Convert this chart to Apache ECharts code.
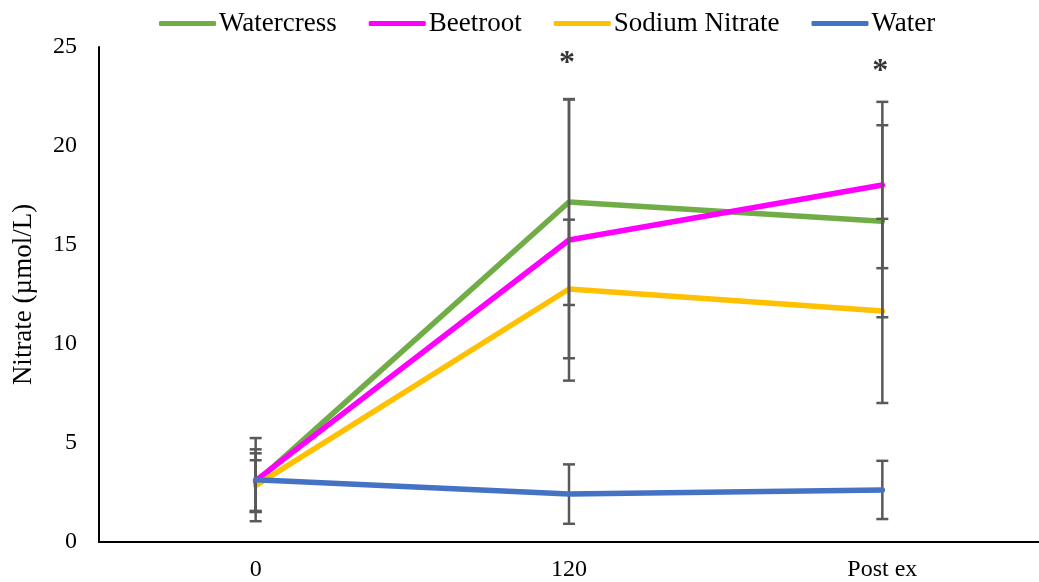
<!DOCTYPE html>
<html><head><meta charset="utf-8">
<script src="https://cdn.jsdelivr.net/npm/echarts@6/dist/echarts.min.js"></script>
<style>html,body{margin:0;padding:0;background:#fff}#c{width:1039px;height:582px}</style>
</head><body><div id="c"></div>
<script>
const categories = ['0', '120', 'Post ex'];
const seriesNames = ['Watercress', 'Beetroot', 'Sodium Nitrate', 'Water'];
const watercress = [3.0, 17.17, 16.2];
const beetroot = [3.1, 15.25, 18.03];
const sodiumNitrate = [2.85, 12.78, 11.67];
const water = [3.15, 2.42, 2.63];
const watercressErr = [1.48, 5.2, 4.85];
const beetrootErr = [1.58, 7.1, 4.2];
const sodiumNitrateErr = [1.28, 3.5, 4.65];
const waterErr = [2.1, 1.5, 1.47];
const sigCategories = ['120', 'Post ex'];
const sigLabelValues = [24.15, 23.75];
const yTicks = [0, 5, 10, 15, 20, 25];

const colors = ['#70AD47', '#FF00FF', '#FFC000', '#4472C4'];
const values = [watercress, beetroot, sodiumNitrate, water];
const errs = [watercressErr, beetrootErr, sodiumNitrateErr, waterErr];
const font = '"Liberation Serif", "Times New Roman", serif';

const errData = [];
values.forEach((arr, s) => arr.forEach((v, i) => errData.push([i, v - errs[s][i], v + errs[s][i]])));

const chart = echarts.init(document.getElementById('c'), null, {renderer: 'canvas'});
const series = seriesNames.map((n, s) => ({
  name: n, type: 'line', data: values[s], symbol: 'none',
  lineStyle: {width: 5.5, color: colors[s], cap: 'round'}, itemStyle: {color: colors[s]},
  z: s === 3 ? 5 : 2, animation: false
}));
series.push({
  type: 'custom', name: 'err', data: errData, z: 3, animation: false,
  renderItem: function (params, api) {
    const x = api.coord([api.value(0), api.value(1)])[0];
    const yl = api.coord([api.value(0), api.value(1)])[1];
    const yh = api.coord([api.value(0), api.value(2)])[1];
    const hw = 6;
    const st = {stroke: '#595959', lineWidth: 2.5};
    return {type: 'group', children: [
      {type: 'line', shape: {x1: x, y1: yl, x2: x, y2: yh}, style: st},
      {type: 'line', shape: {x1: x - hw, y1: yl, x2: x + hw, y2: yl}, style: st},
      {type: 'line', shape: {x1: x - hw, y1: yh, x2: x + hw, y2: yh}, style: st}
    ]};
  }
});
series.push({
  type: 'scatter', name: 'sig', symbolSize: 0, animation: false,
  data: sigCategories.map((c, i) => [c, sigLabelValues[i]]),
  label: {show: true, formatter: '*', position: 'inside', color: '#000', fontFamily: font, fontSize: 32, fontWeight: 'bold', offset: [-2, 0]}
});

chart.setOption({
  animation: false,
  color: colors,
  legend: {
    data: seriesNames, top: 5, left: 154, itemWidth: 57, itemHeight: 5, itemGap: 32,
    icon: 'roundRect',
    textStyle: {fontFamily: font, fontSize: 27, color: '#000', padding: [0, 0, 0, -2]}
  },
  grid: {left: 99, right: 0, top: 47, bottom: 40, containLabel: false, outerBoundsMode: 'none'},
  xAxis: {
    type: 'category', data: categories, boundaryGap: true,
    axisLine: {lineStyle: {color: '#000', width: 2}}, axisTick: {show: false},
    axisLabel: {fontFamily: font, fontSize: 24, color: '#000', margin: 16}
  },
  yAxis: {
    type: 'value', min: yTicks[0], max: yTicks[yTicks.length - 1], interval: 5,
    name: 'Nitrate (µmol/L)', nameLocation: 'middle', nameGap: 62,
    nameTextStyle: {fontFamily: font, fontSize: 27, color: '#000'},
    axisLine: {show: true, lineStyle: {color: '#000', width: 2}}, axisTick: {show: false},
    splitLine: {show: false},
    axisLabel: {fontFamily: font, fontSize: 24, color: '#000', margin: 22}
  },
  series: series
});
</script></body></html>
